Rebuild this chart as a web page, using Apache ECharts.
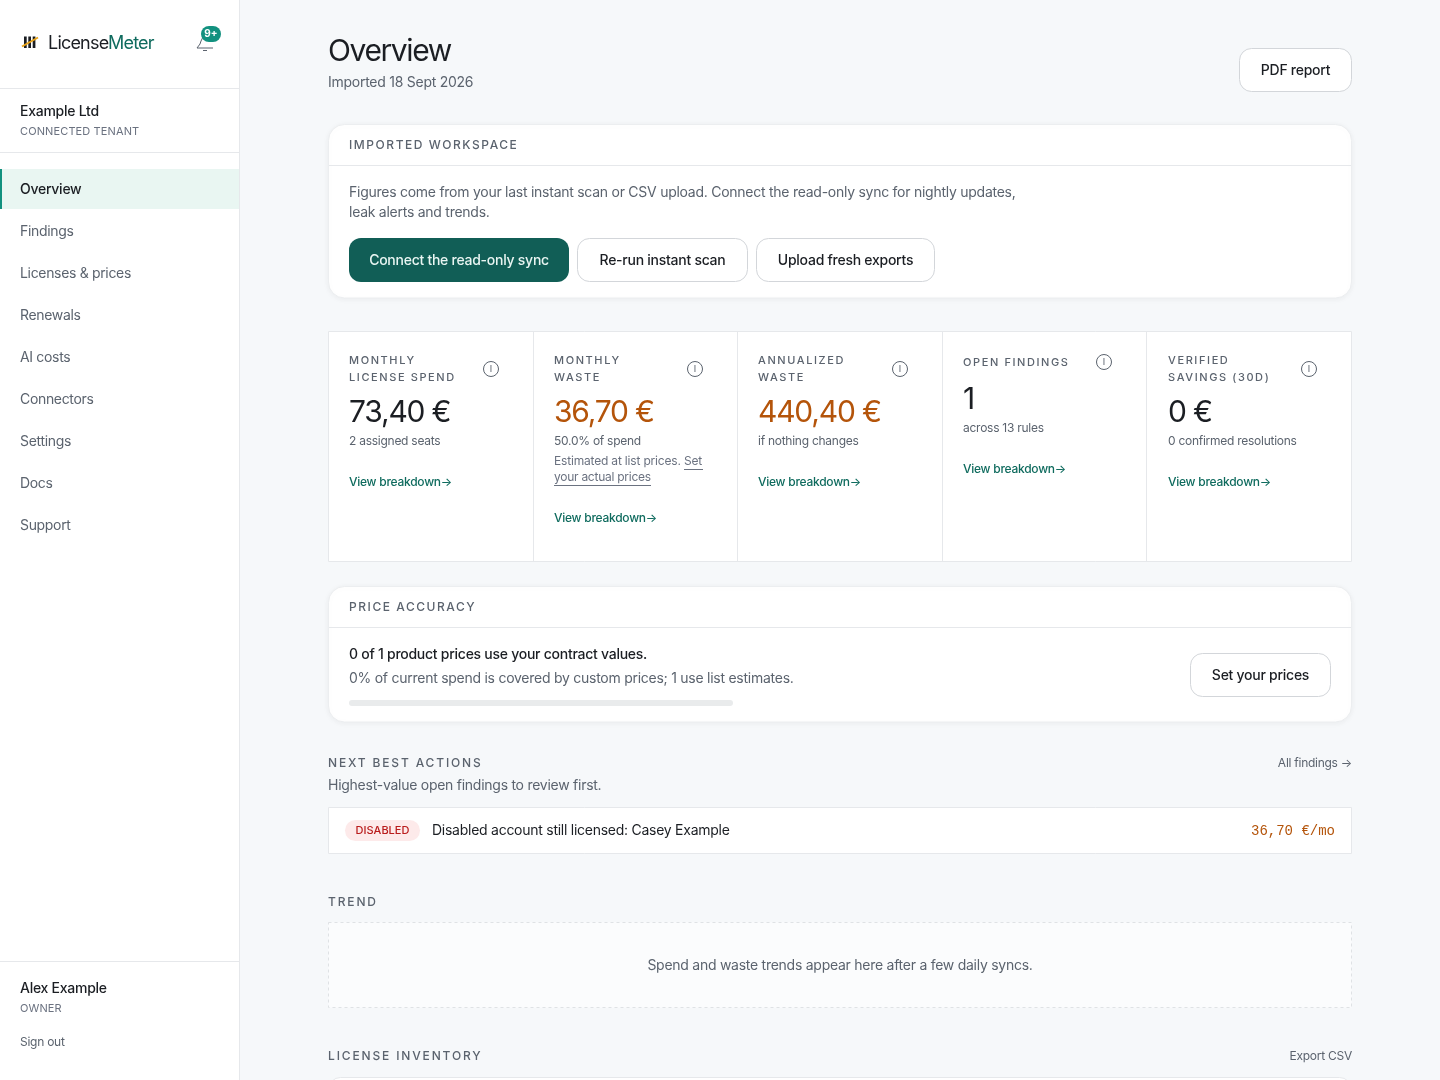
<!DOCTYPE html>
<html>
<head>
<meta charset="utf-8">
<title>LicenseMeter overview</title>
<script src="https://cdn.jsdelivr.net/npm/echarts@6/dist/echarts.min.js"></script>
<style>
	html, body { margin: 0; padding: 0; background: #f6f8fa; overflow: hidden; }
	#main { width: 1440px; height: 1080px; }
</style>
</head>
<body>
<div id="main"></div>
<script>
var navItems = ['Overview', 'Findings', 'Licenses & prices', 'Renewals', 'AI costs', 'Connectors', 'Settings', 'Docs', 'Support'];

var kpiLabels = [
	['MONTHLY', 'LICENSE SPEND'],
	['MONTHLY', 'WASTE'],
	['ANNUALIZED', 'WASTE'],
	['OPEN FINDINGS'],
	['VERIFIED', 'SAVINGS (30D)']
];
var kpiValues = ['73,40 €', '36,70 €', '440,40 €', '1', '0 €'];
var kpiWarn = [false, true, true, false, false];
var kpiSubs = ['2 assigned seats', '50.0% of spend', 'if nothing changes', 'across 13 rules', '0 confirmed resolutions'];
var kpiNote = ['Estimated at list prices.', 'Set', 'your actual prices'];
var linkText = 'View breakdown→';

var workspaceLines = [
	'Figures come from your last instant scan or CSV upload. Connect the read-only sync for nightly updates,',
	'leak alerts and trends.'
];
var workspaceButtons = ['Connect the read-only sync', 'Re-run instant scan', 'Upload fresh exports'];

var customPriceShare = [0];
var shareCategories = ['Custom prices'];

var cardTitles = ['IMPORTED WORKSPACE', 'PRICE ACCURACY'];
var sectionTitles = ['NEXT BEST ACTIONS', 'TREND', 'LICENSE INVENTORY'];
var moneyPerMonth = '36,70 €/mo';

// canvas letter spacing, zrender has no option for it
var sizeTracking = { 30: -1.4, 18: -0.8, 14: -0.26, 12: -0.26 };
var tracking = { 'CONNECTED TENANT': 0.12, 'OWNER': 0.1 };
tracking[moneyPerMonth] = 0;
tracking[kpiNote[0]] = -0.18;
navItems.slice(1).forEach(function(t){ tracking[t] = -0.33; });
cardTitles.forEach(function(t){ tracking[t] = 1.55; });
sectionTitles.forEach(function(t){ tracking[t] = 1.85; });
kpiLabels.forEach(function(l){ l.forEach(function(t){ tracking[t] = 1.6; }); });
kpiValues.forEach(function(t){ tracking[t] = -1.2; });

var nativeFillText = CanvasRenderingContext2D.prototype.fillText;
CanvasRenderingContext2D.prototype.fillText = function(t, x, y){
	var size = parseInt(this.font.match(/(\d+)px/)[1], 10);
	var spacing = t in tracking ? tracking[t] : (sizeTracking[size] || 0);
	this.letterSpacing = spacing + 'px';
	nativeFillText.call(this, t, x, y);
};

var SANS = 'Inter, sans-serif';
var INK = '#1b1e23';
var GREY = '#5b636e';
var TEAL = '#0f6b5e';
var ORANGE = '#b4540a';
var LINE = '#e6e8eb';

// baseline nudge per font size, middle sits a bit high otherwise
var yNudge = { 30: 2, 18: 2, 14: 1, 11: 1 };

var els = [];

function text(str, x, y, size, fill, opts){
	opts = opts || {};
	els.push({
		type: 'text',
		silent: true,
		style: {
			text: str,
			x: x,
			y: y + (yNudge[size] || 0),
			fill: fill,
			font: (opts.weight || 400) + ' ' + size + 'px ' + (opts.family || SANS),
			align: opts.align || 'left',
			verticalAlign: 'middle'
		}
	});
}

function box(x, y, w, h, r, fill, stroke, extra){
	var style = { fill: fill, stroke: stroke || null, lineWidth: 1 };
	for(var k in extra){
		style[k] = extra[k];
	}
	els.push({ type: 'rect', silent: true, shape: { x: x, y: y, width: w, height: h, r: r }, style: style });
}

function rule(x1, y1, x2, y2, color){
	els.push({ type: 'line', silent: true, shape: { x1: x1, y1: y1, x2: x2, y2: y2 }, style: { stroke: color || LINE, lineWidth: 1 } });
}

function button(x, y, w, label, dark){
	if(dark){
		box(x, y, w, 44, 12, '#115e56');
	}else{
		box(x + 0.5, y + 0.5, w - 1, 43, 12, '#fff', '#d3d6da');
	}
	text(label, x + w / 2, y + 22, 14, dark ? '#e9f5f2' : INK, { weight: 500, align: 'center' });
}

function card(y, h, title){
	box(328.5, y + 0.5, 1023, h - 0.5, 16, '#fff', '#eceef0', { shadowBlur: 6, shadowColor: 'rgba(20,30,40,0.05)', shadowOffsetY: 1 });
	text(title, 349, y + 21, 12, GREY, { weight: 500 });
	rule(329, y + 41.5, 1351, y + 41.5);
}

function buildSidebar(){
	box(0, 0, 239.5, 1080, 0, '#fff');
	rule(239.5, 0, 239.5, 1080);

	// logo
	[24, 28.3, 32.7].forEach(function(x){
		box(x, 36.5, 2.7, 11.5, 0, '#1b1e23');
	});
	els.push({ type: 'line', silent: true, shape: { x1: 22, y1: 46.5, x2: 38, y2: 37.5 }, style: { stroke: '#e8a317', lineWidth: 2 } });
	text('License', 48, 42, 18, INK);
	text('Meter', 108, 42, 18, TEAL);

	// bell with badge
	els.push({ type: 'polyline', silent: true, shape: { points: [[203, 37], [201, 41], [200, 44], [197, 48], [213, 48]] }, style: { stroke: '#5b636e', lineWidth: 1, fill: null } });
	rule(203, 50.5, 207, 50.5, '#5b636e');
	box(201, 26, 20, 16, 8, '#12917f');
	text('9+', 211, 33.5, 10, '#fff', { weight: 700, align: 'center' });

	rule(0, 88.5, 239, 88.5);
	text('Example Ltd', 20, 111, 14, INK, { weight: 500 });
	text('CONNECTED TENANT', 20, 131, 11, '#6b7280');
	rule(0, 152.5, 239, 152.5);

	box(0, 169, 239, 40, 0, '#e9f6f2');
	box(0, 169, 2, 40, 0, '#12917f');
	navItems.forEach(function(name, i){
		var active = i === 0;
		text(name, 20, 189 + i * 42, 14, active ? INK : GREY, { weight: active ? 500 : 400 });
	});

	rule(0, 961.5, 239, 961.5);
	text('Alex Example', 20, 988, 14, INK, { weight: 500 });
	text('OWNER', 20, 1008, 11, '#6b7280');
	text('Sign out', 20, 1042, 12, GREY);
}

function buildHeader(){
	text('Overview', 328, 50, 30, INK);
	text('Imported 18 Sept 2026', 328, 82, 14, GREY);
	button(1239, 48, 113, 'PDF report', false);
}

function buildWorkspace(){
	card(124, 174, cardTitles[0]);
	workspaceLines.forEach(function(l, i){
		text(l, 349, 192 + i * 20, 14, GREY);
	});
	button(349, 238, 220, workspaceButtons[0], true);
	button(577, 238, 171, workspaceButtons[1], false);
	button(756, 238, 179, workspaceButtons[2], false);
}

function buildKpis(){
	var lefts = [349, 554, 758, 963, 1168];
	var icons = [491, 695, 900, 1104, 1309];
	var linkY = [482.5, 518.5, 482.5, 469.5, 482.5];
	box(328.5, 331.5, 1023, 230, 0, '#fff', LINE);
	[533.5, 737.5, 942.5, 1146.5].forEach(function(x){
		rule(x, 332, x, 561);
	});
	kpiLabels.forEach(function(lines, i){
		var x = lefts[i];
		var two = lines.length === 2;
		var shift = two ? 0 : -13;
		lines.forEach(function(l, j){
			text(l, x, (two ? 360 : 362) + j * 17, 11, GREY, { weight: 500 });
		});
		var iconY = two ? 369 : 362;
		els.push({ type: 'circle', silent: true, shape: { cx: icons[i], cy: iconY, r: 7.5 }, style: { fill: null, stroke: '#5b636e', lineWidth: 1 } });
		text('I', icons[i], iconY, 9, '#5b636e', { align: 'center' });
		text(kpiValues[i], x, 411 + shift, 30, kpiWarn[i] ? ORANGE : INK);
		text(kpiSubs[i], x, 441 + shift, 12, GREY);
		text(linkText, x, linkY[i], 12, TEAL, { weight: 500 });
	});

	// note under the waste figure
	text(kpiNote[0], 554, 461, 12, '#6b7280');
	text(kpiNote[1], 684, 461, 12, '#6b7280');
	text(kpiNote[2], 554, 477, 12, '#6b7280');
	rule(684, 469.5, 703, 469.5, '#6b7280');
	rule(554, 485.5, 651, 485.5, '#6b7280');
}

function buildAccuracy(){
	card(586, 136, cardTitles[1]);
	text('0 of 1 product prices use your contract values.', 349, 654, 14, INK, { weight: 500 });
	text('0% of current spend is covered by custom prices; 1 use list estimates.', 349, 678, 14, GREY);
	button(1190, 653, 141, 'Set your prices', false);
}

function buildActions(){
	text(sectionTitles[0], 328, 763, 12, GREY, { weight: 500 });
	text('All findings →', 1352, 763, 12, GREY, { align: 'right' });
	text('Highest-value open findings to review first.', 328, 785, 14, GREY);
	box(328.5, 807.5, 1023, 46, 0, '#fff', LINE);
	box(345, 820, 75, 21, 10.5, '#fdeaea');
	text('DISABLED', 382.5, 829.5, 11, '#b91c1c', { weight: 500, align: 'center' });
	text('Disabled account still licensed: Casey Example', 432, 830, 14, INK);
	text(moneyPerMonth, 1335, 830, 14, ORANGE, { family: '"Liberation Mono", monospace', align: 'right' });
}

function buildTrend(){
	text(sectionTitles[1], 328, 902, 12, GREY, { weight: 500 });
	box(328.5, 922.5, 1023, 85, 0, '#fbfcfd', '#dfe2e5', { lineDash: [3, 3] });
	text('Spend and waste trends appear here after a few daily syncs.', 840, 965, 14, GREY, { align: 'center' });
}

function buildInventory(){
	text(sectionTitles[2], 328, 1056, 12, GREY, { weight: 500 });
	text('Export CSV', 1352, 1056, 12, GREY, { align: 'right' });
	box(328.5, 1077.5, 1023, 40, 12, '#fff', LINE);
}

buildSidebar();
buildHeader();
buildWorkspace();
buildKpis();
buildAccuracy();
buildActions();
buildTrend();
buildInventory();

var chart = echarts.init(document.getElementById('main'), null, { renderer: 'canvas' });
chart.setOption({
	animation: false,
	backgroundColor: '#f6f8fa',
	graphic: { elements: els },
	grid: { left: 349, top: 700, width: 384, height: 6, containLabel: false },
	xAxis: { type: 'value', min: 0, max: 100, show: false },
	yAxis: { type: 'category', data: shareCategories, show: false },
	series: [{
		type: 'bar',
		z: 100,
		data: customPriceShare,
		barWidth: 6,
		showBackground: true,
		backgroundStyle: { color: '#e9ebec', borderRadius: 3 },
		itemStyle: { color: '#12917f', borderRadius: 3 },
		silent: true
	}]
});
</script>
</body>
</html>
